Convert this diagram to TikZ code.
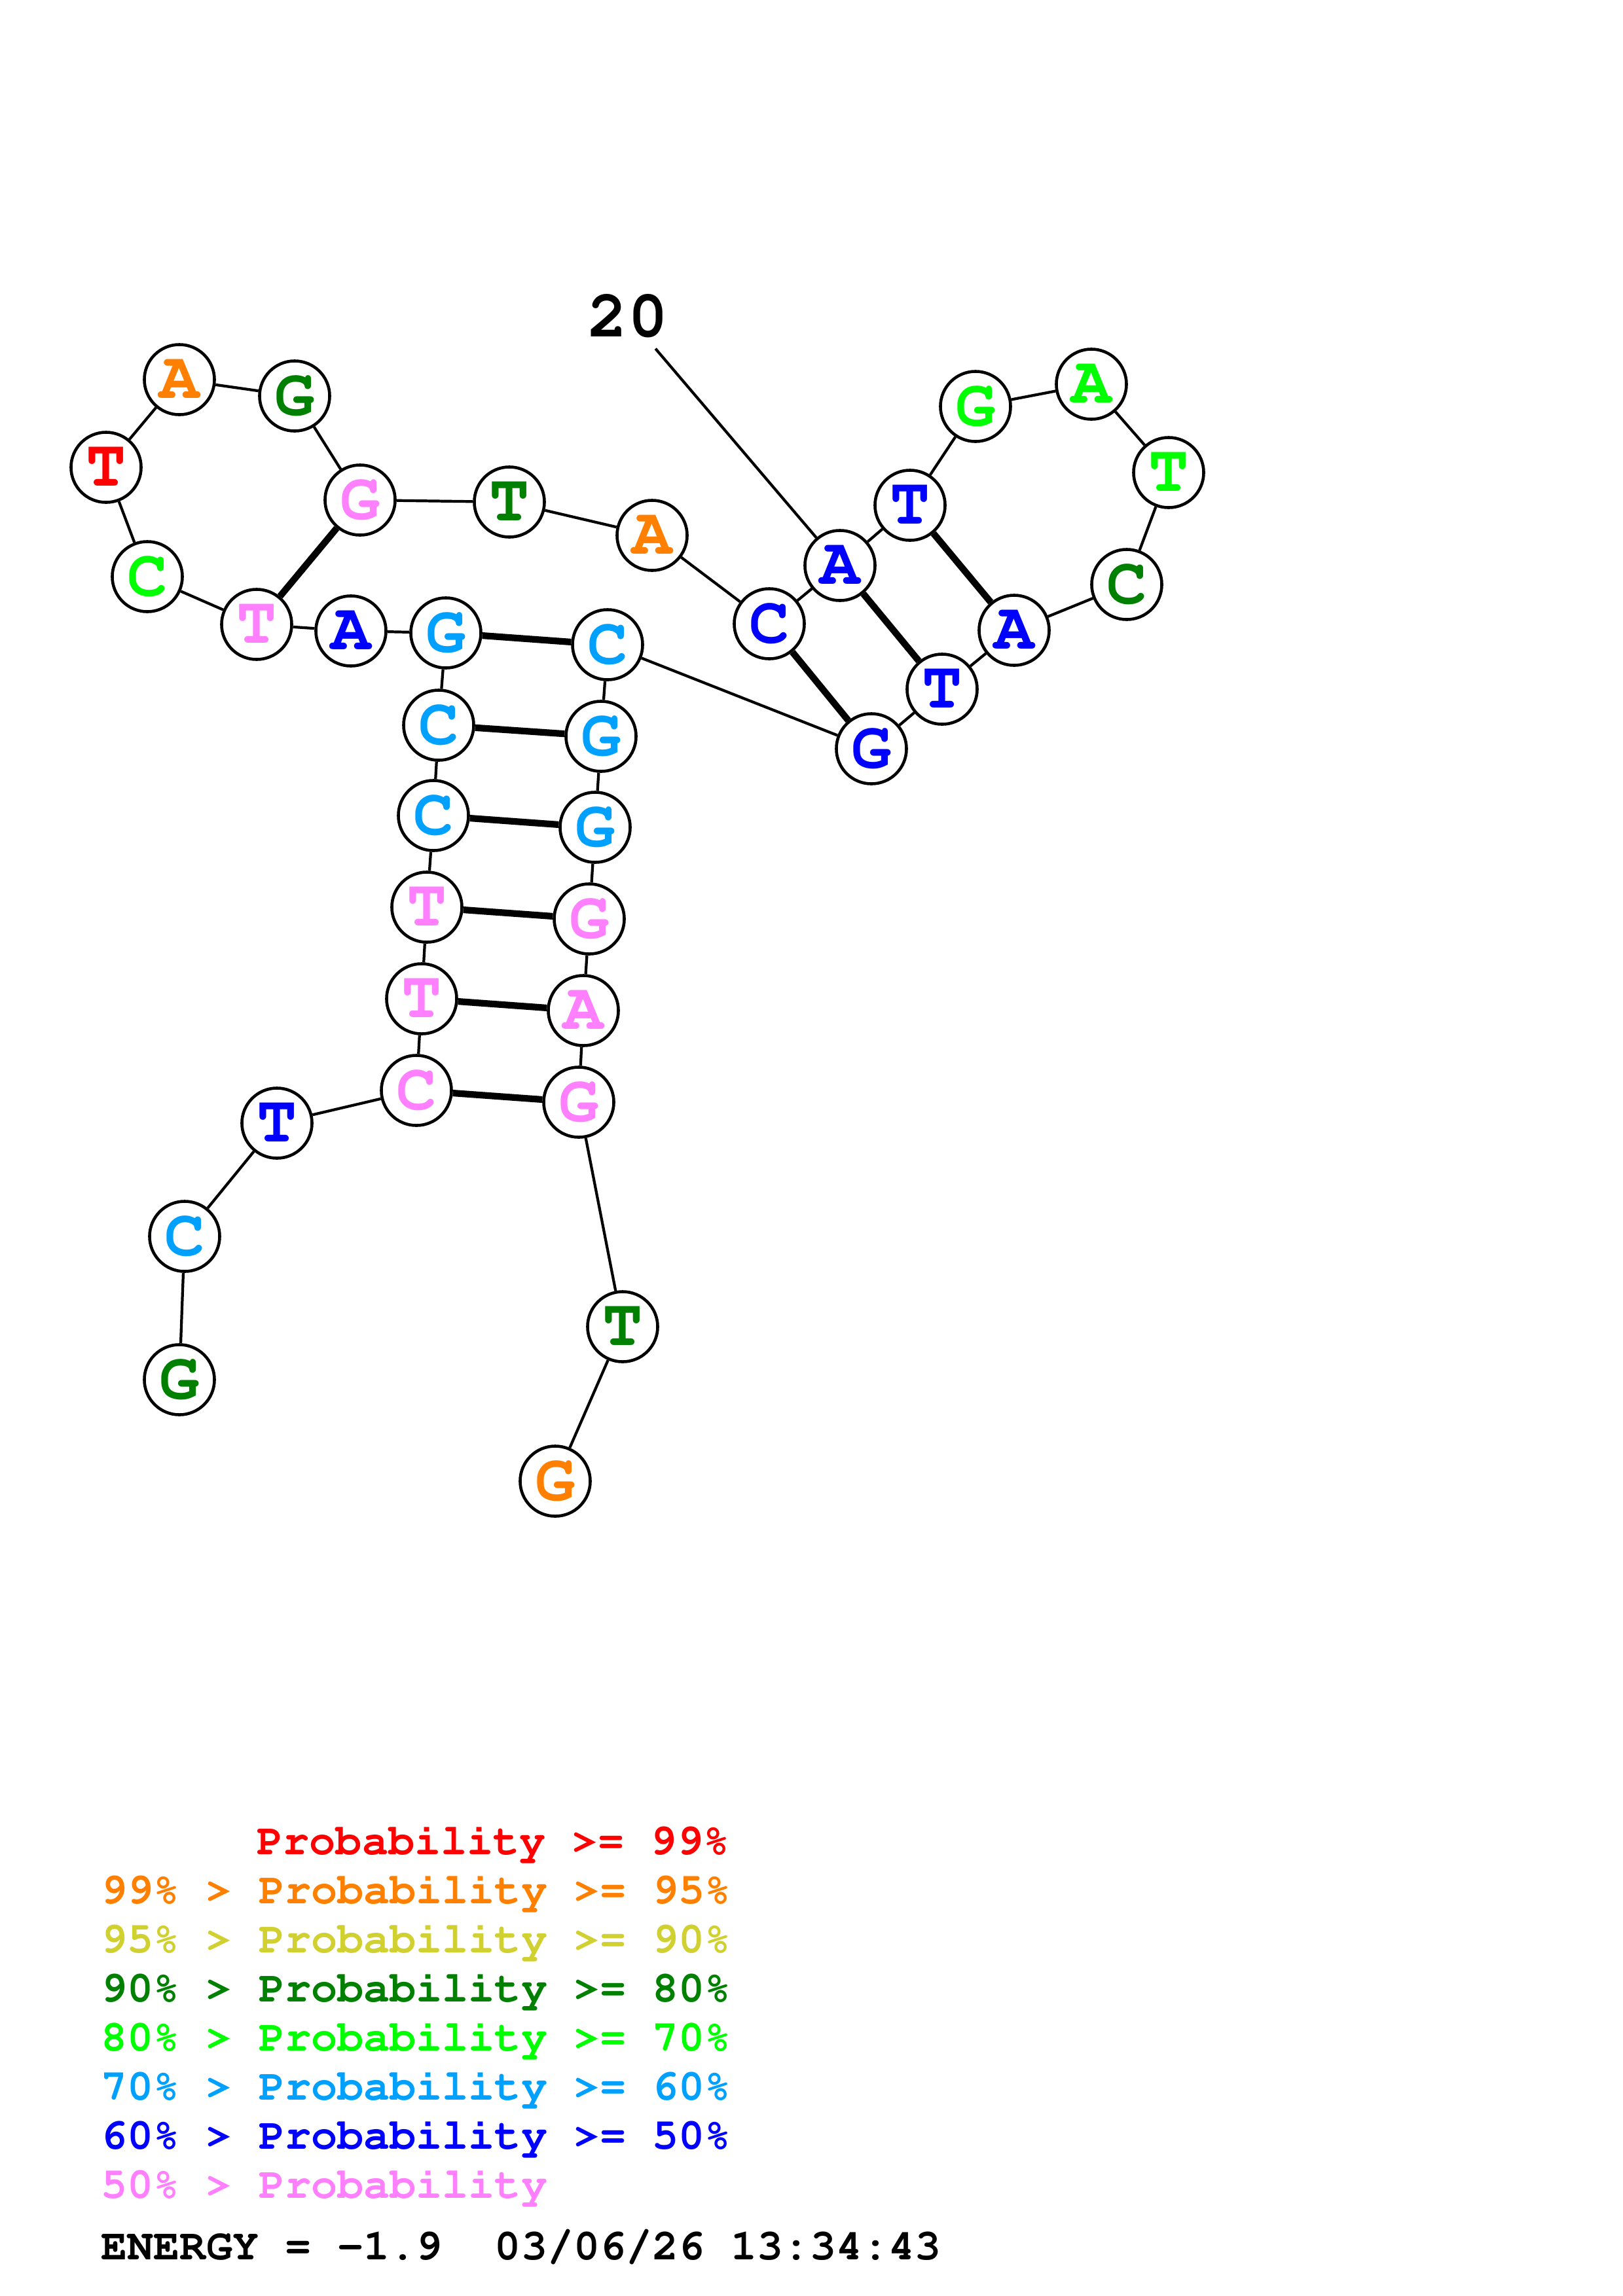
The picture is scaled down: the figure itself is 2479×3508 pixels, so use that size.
\documentclass[tikz,border=0pt]{standalone}
\usepackage[T1,TU]{fontenc}
\usepackage{xcolor}
\usepackage{tikz}
\definecolor{p99}{RGB}{255,0,0}
\definecolor{p95}{RGB}{255,128,0}
\definecolor{p90}{RGB}{208,208,48}
\definecolor{p80}{RGB}{0,128,0}
\definecolor{p70}{RGB}{0,255,0}
\definecolor{p60}{RGB}{0,160,255}
\definecolor{p50}{RGB}{0,0,255}
\definecolor{plow}{RGB}{255,128,255}
\newcommand{\ntfont}{\fontencoding{T1}\fontfamily{pcr}\fontseries{b}\fontsize{29}{29}\selectfont}
\newcommand{\legfont}{\fontencoding{T1}\fontfamily{pcr}\fontseries{b}\fontsize{19}{19}\selectfont}
\tikzstyle{nt}=[circle,draw,fill=white,line width=1.3pt,minimum size=1.07cm,inner sep=0pt,font=\ntfont]
\tikzstyle{bb}=[draw,line width=1.2pt]
\tikzstyle{pair}=[draw,line width=2.9pt]
\tikzstyle{leg}=[anchor=base west,inner sep=0pt,font=\legfont]

\begin{document}
\begin{tikzpicture}[x=0.01cm,y=-0.01cm]
\useasboundingbox (0,0) rectangle (2479,3508);

% % % 5' tail and stem, left strand
	\node[nt,text=p80] (g1) at (274,2108) {G};
	\node[nt,text=p60] (c2) at (282,1889) {C};
	\node[nt,text=p50] (t3) at (423,1716) {T};
	\node[nt,text=plow] (c4) at (636,1666) {C};
	\node[nt,text=plow] (t5) at (644,1526) {T};
	\node[nt,text=plow] (t6) at (652,1386) {T};
	\node[nt,text=p60] (c7) at (662,1246) {C};
	\node[nt,text=p60] (c8) at (670,1108) {C};
	\node[nt,text=p60] (g9) at (681,967) {G};

% % % left hairpin
	\node[nt,text=p50] (a10) at (536,964) {A};
	\node[nt,text=plow] (t11) at (392,954) {T};
	\node[nt,text=p70] (c12) at (225,881) {C};
	\node[nt,text=p99] (t13) at (162,714) {T};
	\node[nt,text=p95] (a14) at (274,580) {A};
	\node[nt,text=p80] (g15) at (450,605) {G};
	\node[nt,text=plow] (g16) at (550,764) {G};
	\node[nt,text=p80] (t17) at (778,767) {T};
	\node[nt,text=p95] (a18) at (996,818) {A};

% % % right hairpin
	\node[nt,text=p50] (c19) at (1175,953) {C};
	\node[nt,text=p50] (a20) at (1283,864) {A};
	\node[nt,text=p50] (t21) at (1390,772) {T};
	\node[nt,text=p70] (g22) at (1490,621) {G};
	\node[nt,text=p70] (a23) at (1667,587) {A};
	\node[nt,text=p70] (t24) at (1785,722) {T};
	\node[nt,text=p80] (c25) at (1721,893) {C};
	\node[nt,text=p50] (a26) at (1549,963) {A};
	\node[nt,text=p50] (t27) at (1439,1053) {T};
	\node[nt,text=p50] (g28) at (1331,1144) {G};

% % % stem, right strand and 3' tail
	\node[nt,text=p60] (c29) at (928,985) {C};
	\node[nt,text=p60] (g30) at (918,1125) {G};
	\node[nt,text=p60] (g31) at (909,1264) {G};
	\node[nt,text=plow] (g32) at (900,1404) {G};
	\node[nt,text=plow] (a33) at (891,1544) {A};
	\node[nt,text=plow] (g34) at (884,1684) {G};
	\node[nt,text=p80] (t35) at (951,2027) {T};
	\node[nt,text=p95] (g36) at (848,2263) {G};

	\node[font=\ntfont,inner sep=4.5pt] (n20) at (959,483) {20};

	\path[bb] (g1) -- (c2) -- (t3) -- (c4) -- (t5) -- (t6) -- (c7) -- (c8) -- (g9);
	\path[bb] (g9) -- (a10) -- (t11) -- (c12) -- (t13) -- (a14) -- (g15) -- (g16);
	\path[bb] (g16) -- (t17) -- (a18) -- (c19) -- (a20) -- (t21) -- (g22) -- (a23);
	\path[bb] (a23) -- (t24) -- (c25) -- (a26) -- (t27) -- (g28) -- (c29);
	\path[bb] (c29) -- (g30) -- (g31) -- (g32) -- (a33) -- (g34) -- (t35) -- (g36);
	\path[bb] (n20) -- (a20);

	\path[pair] (c4) -- (g34);
	\path[pair] (t5) -- (a33);
	\path[pair] (t6) -- (g32);
	\path[pair] (c7) -- (g31);
	\path[pair] (c8) -- (g30);
	\path[pair] (g9) -- (c29);
	\path[pair] (t11) -- (g16);
	\path[pair] (c19) -- (g28);
	\path[pair] (a20) -- (t27);
	\path[pair] (t21) -- (a26);

% % % legend
	\node[leg,text=p99] (leg1) at (392,2833) {Probability >= 99\%};
	\node[leg,text=p95] (leg2) at (154,2908) {99\% > Probability >= 95\%};
	\node[leg,text=p90] (leg3) at (154,2983) {95\% > Probability >= 90\%};
	\node[leg,text=p80] (leg4) at (154,3058) {90\% > Probability >= 80\%};
	\node[leg,text=p70] (leg5) at (154,3133) {80\% > Probability >= 70\%};
	\node[leg,text=p60] (leg6) at (154,3208) {70\% > Probability >= 60\%};
	\node[leg,text=p50] (leg7) at (154,3283) {60\% > Probability >= 50\%};
	\node[leg,text=plow] (leg8) at (154,3358) {50\% > Probability};
	\node[leg,text=black] (energy) at (154,3452) {ENERGY = -1.9\ \ 03/06/26 13:34:43};
\end{tikzpicture}
\end{document}
